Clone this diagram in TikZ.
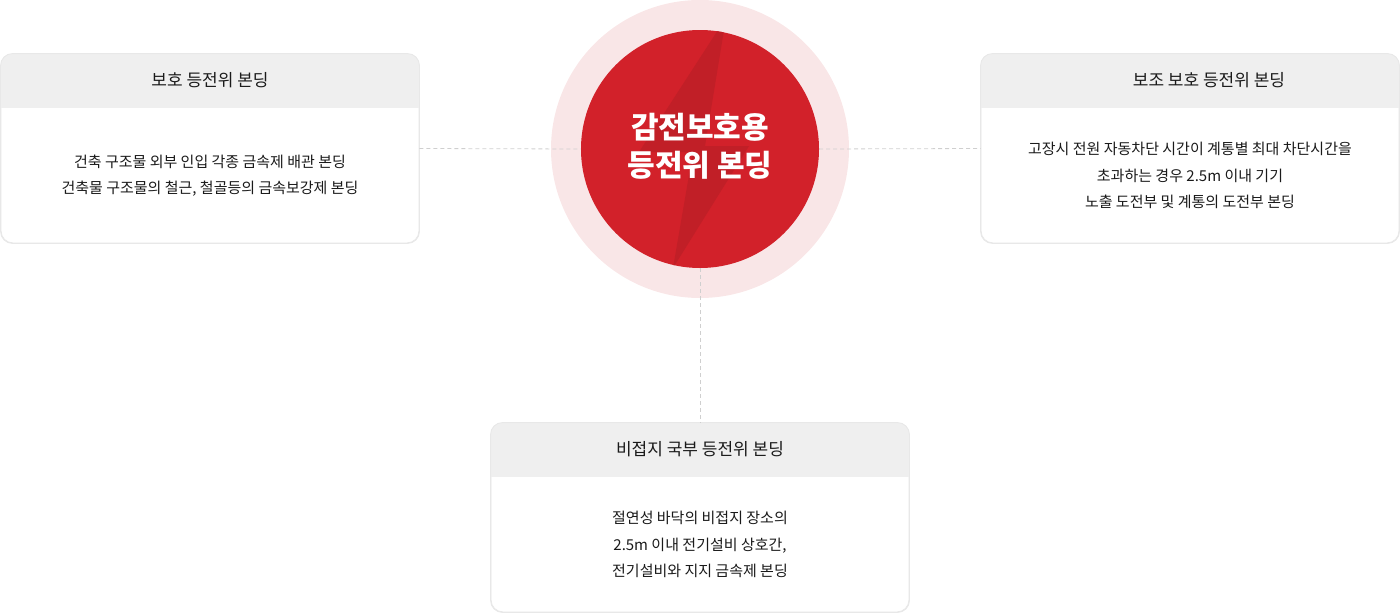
\documentclass[tikz,border=0pt]{standalone}
\usepackage{fontspec}
\setmainfont{Noto Sans CJK KR}
\definecolor{ringc}{HTML}{F9E6E7}
\definecolor{redc}{HTML}{D2212A}
\definecolor{boltc}{HTML}{C11F27}
\definecolor{cardline}{HTML}{E8E8E8}
\definecolor{hdrfill}{HTML}{EFEFEF}
\definecolor{txt}{HTML}{1A1A1A}
\definecolor{dashc}{HTML}{CFCFCF}
\begin{document}
\begin{tikzpicture}[x=1pt,y=-1pt]
\useasboundingbox (0,0) rectangle (1400,613);
\tikzset{
  card/.style={draw=cardline, fill=white, rounded corners=12pt, minimum width=418pt, minimum height=189pt, line width=0.9pt, inner sep=0pt},
  hdrtext/.style={text=txt, font=\fontsize{17pt}{20pt}\selectfont, inner sep=0pt},
  bodytext/.style={text=txt, font=\fontsize{15pt}{26.5pt}\selectfont, align=center, inner sep=0pt},
  conn/.style={draw=dashc, line width=0.8pt, dash pattern=on 4pt off 3pt},
}
\newcommand\krcard[6]{%
  \node[card] (#1) at (#2) {};
  \begin{scope}
    \clip[rounded corners=12pt] (#1.north west) rectangle (#1.south east);
    \fill[hdrfill] (#1.north west) rectangle ([yshift=-54pt]#1.north east);
  \end{scope}
  \draw[cardline, line width=0.9pt, rounded corners=12pt] (#1.north west) rectangle (#1.south east);
  \node[hdrtext] (#1h) at ([yshift=-27pt, xshift=#6]#1.north) {#3};
  \node[bodytext] (#1b) at ([yshift=#5]#1.center) {#4};
}
% ring and circle
\node[circle, fill=ringc, minimum size=298pt, inner sep=0pt] (R) at (700,149) {};
\node[circle, fill=redc, minimum size=238pt, inner sep=0pt] (C) at (700,149) {};
\begin{scope}
  \clip (700,149) circle (119pt);
  \fill[boltc] (718,30) -- (724,30) -- (705,146) -- (749,146) -- (673,268) -- (693,152) -- (639,152) -- cycle;
\end{scope}
\node[text=white, font=\fontsize{30pt}{38pt}\selectfont\bfseries, align=center, inner sep=0pt] (T) at (700,146) {감전보호용\\등전위 본딩};
% cards
\krcard{L}{210,148.5}{보호 등전위 본딩}{건축 구조물 외부 인입 각종 금속제 배관 본딩\\건축물 구조물의 철근, 철골등의 금속보강제 본딩}{-27pt}{0pt}
\krcard{Rt}{1190,148.5}{보조 보호 등전위 본딩}{고장시 전원 자동차단 시간이 계통별 최대 차단시간을\\초과하는 경우 2.5m 이내 기기\\노출 도전부 및 계통의 도전부 본딩}{-27pt}{19pt}
\krcard{B}{700,517.5}{비접지 국부 등전위 본딩}{절연성 바닥의 비접지 장소의\\2.5m 이내 전기설비 상호간,\\전기설비와 지지 금속제 본딩}{-27pt}{0pt}
% connectors
\draw[conn] (L.east) -- (C.west);
\draw[conn] (C.east) -- (Rt.west);
\draw[conn] (C.south) -- (B.north);
\end{tikzpicture}
\end{document}
